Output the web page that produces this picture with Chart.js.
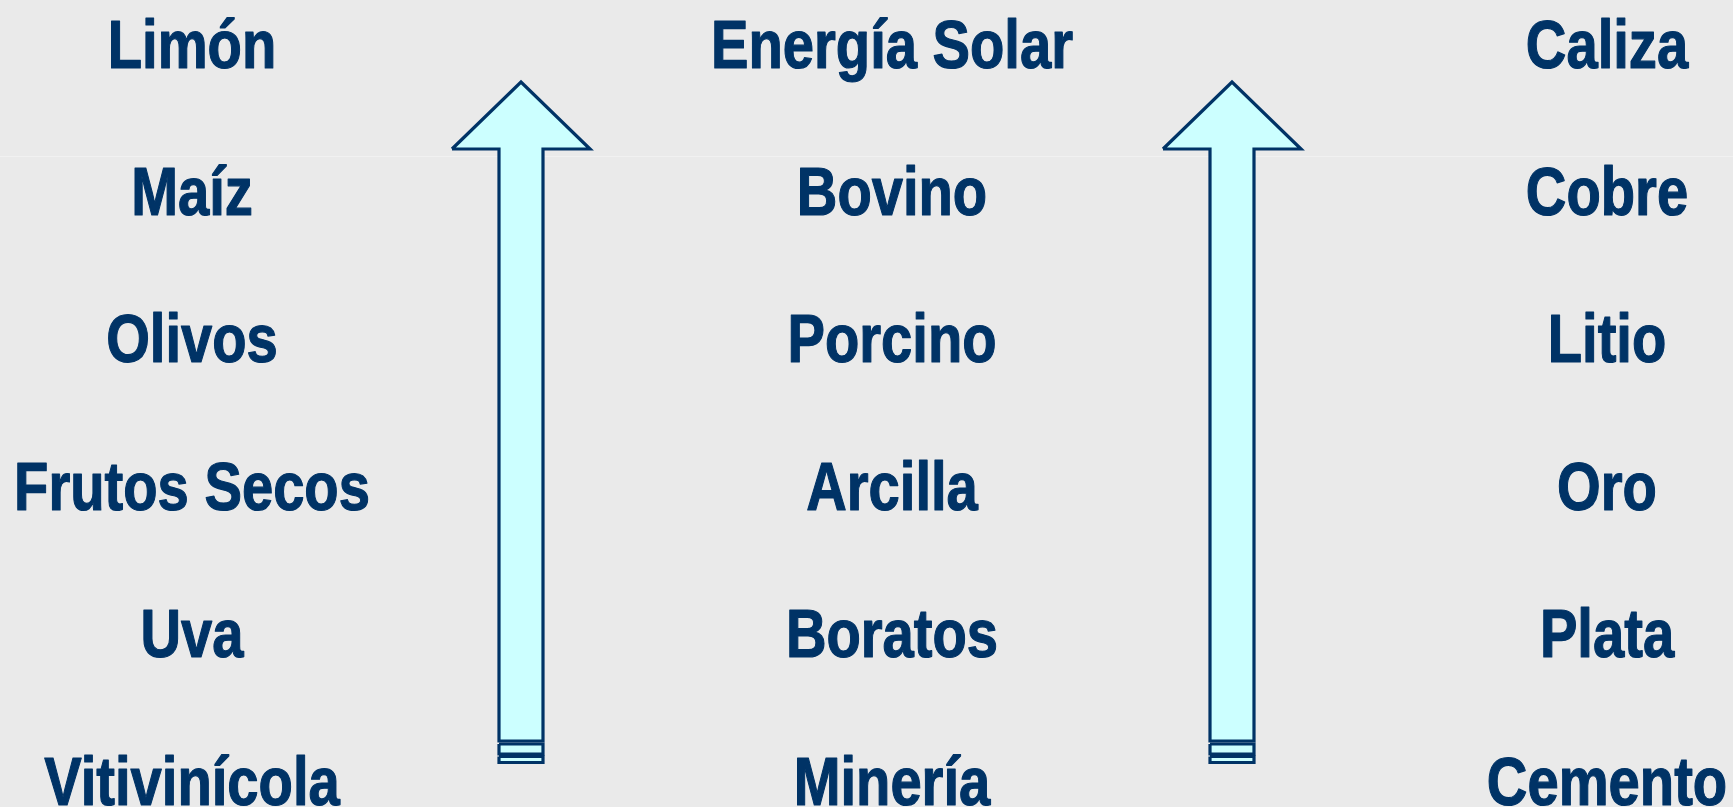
<!DOCTYPE html>
<html>
<head>
<meta charset="utf-8">
<script src="https://cdn.jsdelivr.net/npm/chart.js@4"></script>
<style>
  html, body { margin: 0; padding: 0; background: #EAEAEA; overflow: hidden; }
  canvas { display: block; }
</style>
</head>
<body>
<canvas id="c" width="1733" height="807"></canvas>
<script>
// ---- Data: the three columns of labels (top to bottom) ----
const columnLeft   = ['Limón', 'Maíz', 'Olivos', 'Frutos Secos', 'Uva', 'Vitivinícola'];
const columnMiddle = ['Energía Solar', 'Bovino', 'Porcino', 'Arcilla', 'Boratos', 'Minería'];
const columnRight  = ['Caliza', 'Cobre', 'Litio', 'Oro', 'Plata', 'Cemento'];
const columns = [columnLeft, columnMiddle, columnRight];

// ---- Layout (in scale units: x across, y down) ----
const colX = [192, 892, 1607];          // column centres
const rowBaseY0 = 67.5, rowStep = 147.4; // text baselines
const arrowX = [521, 1232];             // arrow centre lines
const arrowTipY = 82, arrowHeadBaseY = 149, arrowShaftBottomY = 741;
const headHalf = 69, shaftHalf = 22;
const stubBars = [[744, 754], [756.5, 762.5]];
const textCondense = 0.826;             // narrow-face width factor

function rect(cx, y0, y1) {
  return [
    {x: cx - shaftHalf, y: y0}, {x: cx + shaftHalf, y: y0},
    {x: cx + shaftHalf, y: y1}, {x: cx - shaftHalf, y: y1},
    {x: cx - shaftHalf, y: y0}
  ];
}
function arrow(cx) {
  return [
    {x: cx - headHalf, y: arrowHeadBaseY},
    {x: cx, y: arrowTipY},
    {x: cx + headHalf, y: arrowHeadBaseY},
    {x: cx + shaftHalf, y: arrowHeadBaseY},
    {x: cx + shaftHalf, y: arrowShaftBottomY},
    {x: cx - shaftHalf, y: arrowShaftBottomY},
    {x: cx - shaftHalf, y: arrowHeadBaseY},
    {x: cx - headHalf, y: arrowHeadBaseY}
  ];
}

const shapeStyle = {
  type: 'line', showLine: true, fill: 'shape',
  backgroundColor: '#CCFFFF', borderColor: '#003366', borderWidth: 3.2,
  pointRadius: 0, tension: 0, borderJoinStyle: 'miter'
};
const datasets = [];
arrowX.forEach(cx => {
  datasets.push(Object.assign({}, shapeStyle, {data: arrow(cx)}));
  stubBars.forEach(b => datasets.push(Object.assign({}, shapeStyle, {data: rect(cx, b[0], b[1])})));
});

const bgPlugin = {
  id: 'bg',
  beforeDraw(chart) {
    const ctx = chart.ctx;
    ctx.save();
    ctx.fillStyle = '#EAEAEA';
    ctx.fillRect(0, 0, chart.width, chart.height);
    const y = chart.scales.y.getPixelForValue(156);
    ctx.fillStyle = '#F1F1F1';
    ctx.fillRect(0, Math.round(y), chart.width, 1);
    ctx.restore();
  }
};

const labelPlugin = {
  id: 'labels',
  afterDatasetsDraw(chart) {
    const ctx = chart.ctx, xs = chart.scales.x, ys = chart.scales.y;
    ctx.save();
    ctx.fillStyle = '#003366';
    ctx.strokeStyle = '#003366';
    ctx.lineWidth = 1.2;
    ctx.lineJoin = 'round';
    ctx.textAlign = 'center';
    ctx.textBaseline = 'alphabetic';
    ctx.font = 'bold 68px "Liberation Sans", Arial, sans-serif';
    columns.forEach((col, ci) => {
      col.forEach((label, ri) => {
        ctx.save();
        ctx.translate(xs.getPixelForValue(colX[ci]), ys.getPixelForValue(rowBaseY0 + rowStep * ri));
        ctx.scale(textCondense, 1);
        ctx.fillText(label, 0, 0);
        ctx.strokeText(label, 0, 0);
        ctx.restore();
      });
    });
    ctx.restore();
  }
};

new Chart(document.getElementById('c'), {
  type: 'scatter',
  data: { datasets },
  options: {
    responsive: false,
    devicePixelRatio: 1,
    animation: false,
    layout: { padding: 0 },
    plugins: { legend: { display: false }, tooltip: { enabled: false } },
    scales: {
      x: { type: 'linear', min: 0, max: 1733, display: false },
      y: { type: 'linear', min: 0, max: 807, reverse: true, display: false }
    }
  },
  plugins: [bgPlugin, labelPlugin]
});
</script>
</body>
</html>
